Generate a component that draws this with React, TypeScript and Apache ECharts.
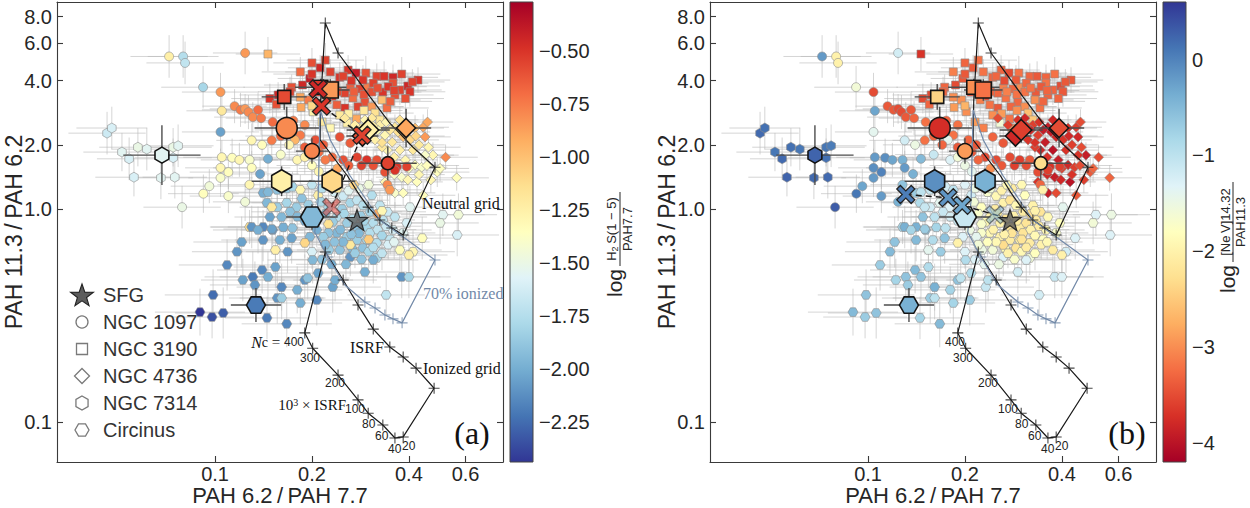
import React, { useEffect, useRef } from 'react';
import * as echarts from 'echarts';

// ---------------- axes / colour scales ----------------
const X_TICKS = [0.1, 0.2, 0.4, 0.6];
const Y_TICKS = [0.1, 1, 2, 4, 6, 8];
const CB_A_TICKS = [-2.25, -2.0, -1.75, -1.5, -1.25, -1.0, -0.75, -0.5];
const CB_B_TICKS = [-4, -3, -2, -1, 0];
const X_RANGE = [0.0323, 0.784];
const Y_RANGE = [0.0649, 9.37];
const CB_A_RANGE = [-2.44, -0.27];
const CB_B_RANGE = [-4.2, 0.6];

// ---------------- data: [x, y, colour (a), colour (b), x err (dex), y err (dex)] ----------------
const NGC3190 = [
  [0.146, 5.34, -0.95, -3.7, 0.1, 0.08], [0.2, 4.85, -0.6, -3.3, 0.12, 0.07], [0.212, 4.6, -0.45, -3.4, 0.1, 0.06],
  [0.228, 4.4, -0.55, -3.2, 0.14, 0.06], [0.259, 4.49, -0.5, -3.3, 0.12, 0.07], [0.274, 4.35, -0.4, -3.5, 0.1, 0.06],
  [0.294, 4.35, -0.6, -3.2, 0.15, 0.08], [0.318, 4.2, -0.55, -3.3, 0.12, 0.06], [0.335, 4.2, -0.5, -3.4, 0.1, 0.07],
  [0.357, 4.15, -0.45, -3.3, 0.14, 0.06], [0.38, 4.3, -0.55, -3.2, 0.12, 0.08], [0.427, 4.03, -0.5, -3.4, 0.1, 0.06],
  [0.184, 4.4, -0.7, -3.1, 0.12, 0.07], [0.173, 3.73, -0.6, -3.3, 0.15, 0.06], [0.187, 3.82, -0.45, -3.5, 0.12, 0.07],
  [0.197, 4.1, -0.4, -3.4, 0.1, 0.06], [0.236, 3.82, -0.6, -3.2, 0.13, 0.06], [0.244, 4.15, -0.5, -3.3, 0.11, 0.07],
  [0.263, 3.7, -0.65, -3.1, 0.12, 0.06], [0.282, 3.66, -0.55, -3.3, 0.14, 0.07], [0.298, 3.73, -0.75, -3.0, 0.1, 0.06],
  [0.332, 3.54, -0.5, -3.4, 0.12, 0.07], [0.357, 3.9, -0.6, -3.2, 0.11, 0.06], [0.375, 3.62, -0.55, -3.3, 0.13, 0.07],
  [0.397, 3.78, -0.45, -3.5, 0.1, 0.06], [0.33, 3.25, -1.0, -3.0, 0.12, 0.07], [0.268, 3.32, -0.7, -3.2, 0.14, 0.06],
  [0.292, 3.18, -0.6, -3.3, 0.12, 0.07], [0.307, 3.02, -0.85, -3.0, 0.1, 0.06], [0.253, 2.98, -0.5, -3.4, 0.13, 0.07],
  [0.239, 3.08, -0.65, -3.2, 0.12, 0.06], [0.231, 3.38, -0.5, -3.5, 0.11, 0.07], [0.314, 2.82, -1.15, -2.6, 0.12, 0.06],
  [0.278, 3.02, -0.55, -3.3, 0.14, 0.07], [0.325, 2.62, -1.2, -2.5, 0.12, 0.06], [0.257, 2.53, -1.25, -1.6, 0.1, 0.07],
  [0.244, 2.76, -1.2, -3.0, 0.13, 0.06], [0.275, 2.65, -0.9, -3.2, 0.12, 0.07], [0.318, 2.4, -1.3, -3.0, 0.11, 0.06],
  [0.165, 3.25, -0.6, -3.2, 0.14, 0.07], [0.157, 3.43, -0.45, -3.5, 0.12, 0.06], [0.171, 3.55, -0.55, -3.3, 0.1, 0.07],
  [0.22, 5.0, -0.55, -3.2, 0.12, 0.08], [0.202, 2.86, -1.25, -3.0, 0.13, 0.07], [0.215, 2.56, -1.2, -2.9, 0.12, 0.06],
  [0.228, 2.4, -1.3, -3.1, 0.1, 0.07], [0.362, 3.43, -0.6, -3.3, 0.12, 0.06], [0.403, 3.55, -0.5, -3.4, 0.11, 0.07],
  [0.342, 2.98, -0.7, -3.2, 0.13, 0.06], [0.184, 3.35, -0.9, -3.0, 0.12, 0.07], [0.209, 3.54, -0.5, -3.6, 0.1, 0.06],
  [0.223, 3.25, -0.75, -3.1, 0.12, 0.07], [0.253, 3.5, -0.55, -3.3, 0.11, 0.06], [0.288, 4.03, -0.5, -3.4, 0.13, 0.07],
  [0.307, 3.54, -0.6, -3.2, 0.12, 0.06], [0.148, 3.3, -0.5, -3.5, 0.12, 0.07], [0.155, 3.1, -0.6, -3.3, 0.11, 0.06],
  [0.2, 4.3, -0.5, -3.4, 0.12, 0.07], [0.25, 4.2, -0.55, -3.3, 0.1, 0.06], [0.265, 4.0, -0.5, -3.5, 0.13, 0.07],
  [0.31, 3.9, -0.55, -3.3, 0.12, 0.06], [0.32, 3.7, -0.6, -3.2, 0.11, 0.07], [0.345, 3.75, -0.5, -3.4, 0.12, 0.06],
  [0.36, 3.6, -0.55, -3.3, 0.1, 0.07], [0.29, 3.45, -0.6, -3.2, 0.13, 0.06], [0.27, 3.55, -0.65, -3.1, 0.12, 0.07],
  [0.24, 3.55, -0.6, -3.3, 0.11, 0.06], [0.195, 3.25, -0.75, -3.0, 0.12, 0.07], [0.185, 3.0, -0.9, -2.9, 0.13, 0.06],
  [0.2, 3.05, -1.1, -2.7, 0.12, 0.07], [0.26, 2.8, -1.25, -2.9, 0.1, 0.06], [0.29, 2.9, -1.2, -3.0, 0.12, 0.07],
  [0.3, 2.55, -1.3, -3.1, 0.11, 0.06], [0.28, 2.4, -1.25, -3.0, 0.12, 0.07], [0.35, 3.2, -0.65, -3.3, 0.13, 0.06],
  [0.39, 3.3, -0.6, -3.3, 0.12, 0.07], [0.41, 3.95, -0.55, -3.4, 0.1, 0.06],
];

const NGC4736 = [
  [0.443, 2.42, -0.9, -3.6, 0.08, 0.06], [0.418, 2.4, -1.0, -3.7, 0.09, 0.06], [0.449, 2.18, -0.85, -3.8, 0.08, 0.05],
  [0.52, 1.75, -0.8, -3.5, 0.1, 0.06], [0.475, 1.79, -1.3, -3.9, 0.08, 0.06], [0.449, 1.79, -1.4, -3.7, 0.09, 0.05],
  [0.49, 1.49, -1.35, -3.4, 0.1, 0.07], [0.468, 1.37, -1.3, -3.6, 0.09, 0.06], [0.563, 1.4, -1.35, -3.3, 0.1, 0.06],
  [0.38, 1.41, -1.4, -3.9, 0.08, 0.06], [0.397, 1.37, -1.3, -3.8, 0.09, 0.07], [0.424, 1.34, -1.35, -4.0, 0.08, 0.06],
  [0.362, 1.19, -1.4, -3.9, 0.09, 0.07], [0.384, 1.19, -1.35, -3.5, 0.1, 0.06], [0.337, 1.34, -1.3, -3.7, 0.08, 0.06],
  [0.418, 1.61, -1.35, -3.8, 0.09, 0.06], [0.438, 1.57, -1.4, -3.6, 0.08, 0.05], [0.253, 2.67, -1.2, -3.5, 0.09, 0.06],
  [0.272, 2.48, -1.25, -3.6, 0.1, 0.06], [0.292, 2.62, -1.3, -3.7, 0.08, 0.05], [0.307, 2.67, -1.2, -3.8, 0.09, 0.06],
  [0.325, 2.48, -1.25, -3.6, 0.1, 0.06], [0.34, 2.56, -1.3, -3.7, 0.08, 0.05], [0.362, 2.42, -1.2, -3.9, 0.09, 0.06],
  [0.375, 2.62, -1.15, -3.8, 0.1, 0.06], [0.337, 2.22, -1.3, -3.6, 0.08, 0.05], [0.314, 2.11, -1.25, -3.7, 0.09, 0.06],
  [0.355, 2.06, -1.2, -3.9, 0.1, 0.06], [0.384, 2.18, -1.0, -3.8, 0.08, 0.05], [0.403, 2.11, -1.1, -3.7, 0.09, 0.06],
  [0.37, 2.3, -1.15, -3.9, 0.1, 0.06], [0.292, 2.27, -1.3, -3.6, 0.08, 0.05], [0.32, 2.35, -1.35, -3.8, 0.09, 0.06],
  [0.412, 1.89, -1.2, -3.7, 0.1, 0.06], [0.375, 1.89, -1.25, -4.0, 0.08, 0.05], [0.343, 1.89, -1.3, -3.8, 0.09, 0.06],
  [0.457, 2.56, -0.9, -3.5, 0.08, 0.06], [0.443, 1.16, -1.35, -3.4, 0.1, 0.06],
  [0.35, 1.6, -1.3, -3.8, 0.09, 0.06], [0.36, 1.75, -1.25, -3.7, 0.08, 0.05], [0.39, 1.7, -1.3, -3.9, 0.1, 0.06],
  [0.4, 1.55, -1.35, -3.6, 0.09, 0.06], [0.43, 1.45, -1.3, -3.7, 0.08, 0.05], [0.455, 1.6, -1.35, -3.5, 0.1, 0.06],
  [0.36, 1.45, -1.4, -3.8, 0.09, 0.06], [0.33, 1.95, -1.2, -3.6, 0.08, 0.05], [0.33, 2.05, -1.15, -3.7, 0.1, 0.06],
  [0.42, 2.2, -1.1, -3.8, 0.09, 0.06], [0.43, 2.0, -1.2, -3.6, 0.08, 0.05], [0.46, 1.95, -1.3, -3.5, 0.1, 0.06],
  [0.5, 1.55, -1.35, -3.3, 0.09, 0.06], [0.35, 2.35, -1.2, -3.9, 0.08, 0.05], [0.31, 2.45, -1.25, -3.7, 0.1, 0.06],
];

const NGC1097 = [
  [0.124, 5.4, -0.85, -1.2, 0.1, 0.1], [0.104, 3.54, -0.85, -3.5, 0.12, 0.09], [0.115, 3.04, -0.8, -3.4, 0.1, 0.08],
  [0.12, 2.92, -0.75, -3.4, 0.12, 0.08], [0.124, 2.95, -0.85, -3.5, 0.11, 0.07], [0.127, 2.85, -0.8, -3.5, 0.1, 0.08],
  [0.131, 2.7, -0.8, -3.4, 0.12, 0.07], [0.139, 2.67, -0.75, -3.3, 0.11, 0.08], [0.151, 2.56, -0.7, -3.2, 0.1, 0.07],
  [0.136, 2.92, -0.7, -3.4, 0.12, 0.08], [0.105, 2.89, -1.2, -0.3, 0.11, 0.08], [0.104, 2.3, -2.05, -1.4, 0.12, 0.09],
  [0.0918, 3.73, -1.8, -1.6, 0.13, 0.1], [0.072, 5.2, -1.25, -0.2, 0.12, 0.1], [0.0796, 5.2, -1.75, -2.0, 0.11, 0.1],
  [0.0807, 4.85, -1.7, -2.0, 0.12, 0.1], [0.276, 1.75, -0.55, -3.5, 0.1, 0.07], [0.296, 1.7, -0.5, -3.6, 0.11, 0.06],
  [0.318, 1.7, -0.6, -3.4, 0.1, 0.07], [0.367, 1.58, -0.5, -3.7, 0.12, 0.06], [0.394, 1.58, -0.55, -3.6, 0.1, 0.07],
  [0.263, 2.04, -0.65, -3.4, 0.11, 0.06], [0.244, 2.18, -0.6, -3.3, 0.1, 0.07], [0.231, 1.75, -0.7, -3.5, 0.12, 0.06],
  [0.205, 2.11, -0.6, -3.3, 0.11, 0.07], [0.217, 2.0, -0.65, -3.4, 0.1, 0.06], [0.184, 2.22, -0.75, -3.2, 0.12, 0.07],
  [0.171, 2.35, -0.7, -3.3, 0.11, 0.06], [0.19, 2.48, -0.8, -3.2, 0.1, 0.07], [0.177, 2.11, -0.95, -1.4, 0.12, 0.06],
  [0.337, 1.49, -0.6, -3.5, 0.1, 0.07], [0.362, 1.52, -0.5, -3.6, 0.11, 0.06], [0.343, 1.3, -0.8, -3.3, 0.1, 0.07],
  [0.105, 1.75, -1.3, -0.2, 0.12, 0.08], [0.113, 1.74, -1.35, -0.1, 0.11, 0.09], [0.119, 1.7, -1.3, -0.3, 0.12, 0.08],
  [0.128, 1.7, -1.4, -0.4, 0.1, 0.09], [0.13, 1.56, -1.35, -0.2, 0.12, 0.08], [0.104, 1.56, -1.3, -0.1, 0.11, 0.09],
  [0.11, 1.49, -1.35, 0.0, 0.12, 0.08], [0.104, 1.4, -1.4, -0.2, 0.1, 0.09], [0.096, 1.28, -1.45, -0.3, 0.12, 0.08],
  [0.092, 1.18, -1.35, 0.1, 0.11, 0.09], [0.11, 1.15, -1.4, -0.2, 0.12, 0.08], [0.124, 1.08, -1.45, -0.4, 0.1, 0.09],
  [0.079, 1.02, -1.5, 0.3, 0.12, 0.1], [0.146, 1.72, -2.0, -0.5, 0.11, 0.08], [0.138, 1.46, -2.05, -0.4, 0.12, 0.08],
  [0.14, 2.0, -1.35, -1.5, 0.1, 0.07], [0.13, 2.1, -1.3, -1.2, 0.11, 0.08], [0.128, 1.3, -1.3, -0.6, 0.1, 0.08],
  [0.16, 2.2, -0.7, -3.3, 0.11, 0.07], [0.15, 2.1, -0.75, -3.2, 0.1, 0.08], [0.17, 2.0, -1.3, -3.3, 0.12, 0.07],
  [0.19, 1.95, -0.65, -3.4, 0.11, 0.08], [0.21, 1.85, -0.7, -3.4, 0.1, 0.07], [0.22, 1.7, -0.75, -3.3, 0.12, 0.08],
  [0.25, 1.7, -0.6, -3.5, 0.11, 0.07], [0.26, 1.6, -0.65, -3.4, 0.1, 0.08], [0.24, 1.55, -0.9, -3.0, 0.12, 0.07],
  [0.2, 1.6, -1.35, -1.5, 0.11, 0.08], [0.18, 1.7, -1.3, -1.3, 0.1, 0.07], [0.16, 1.8, -1.4, -1.1, 0.12, 0.08],
  [0.285, 1.6, -0.55, -3.6, 0.11, 0.07], [0.31, 1.6, -0.6, -3.5, 0.1, 0.08], [0.175, 2.6, -0.75, -3.3, 0.12, 0.07],
  [0.19, 1.75, -1.25, -1.6, 0.11, 0.08], [0.21, 1.5, -1.3, -1.4, 0.1, 0.07], [0.23, 1.45, -1.2, -1.8, 0.12, 0.08],
];

const NGC7314 = [
  [0.0462, 2.27, -1.65, 0.2, 0.12, 0.1], [0.0478, 2.4, -1.6, 0.15, 0.11, 0.1], [0.0514, 1.85, -1.55, 0.1, 0.12, 0.09],
  [0.0541, 1.72, -1.6, 0.2, 0.1, 0.1], [0.0576, 1.95, -1.5, 0.15, 0.12, 0.09], [0.0614, 1.91, -1.55, 0.1, 0.11, 0.1],
  [0.056, 1.41, -1.6, 0.25, 0.12, 0.09], [0.0679, 1.4, -1.55, 0.2, 0.1, 0.1], [0.0741, 1.95, -1.5, 0.1, 0.12, 0.09],
  [0.0768, 1.98, -1.55, 0.05, 0.11, 0.1], [0.0741, 1.74, -1.6, 0.15, 0.12, 0.09], [0.075, 1.41, -1.55, 0.2, 0.1, 0.1],
];

const CIRCINUS = [
  [0.141, 1.19, -2.0, -0.7, 0.1, 0.07], [0.146, 1.2, -1.95, -1.0, 0.12, 0.08], [0.156, 1.23, -1.9, -1.1, 0.1, 0.07],
  [0.167, 1.25, -1.85, -1.3, 0.11, 0.08], [0.174, 1.27, -1.8, -1.2, 0.1, 0.07], [0.145, 1.07, -1.95, -0.9, 0.12, 0.08],
  [0.156, 1.02, -1.85, -1.2, 0.1, 0.07], [0.167, 1.07, -1.8, -1.4, 0.11, 0.08], [0.179, 1.02, -1.85, -1.3, 0.1, 0.07],
  [0.171, 0.97, -1.9, -1.1, 0.12, 0.08], [0.161, 0.917, -1.95, -1.0, 0.1, 0.07], [0.148, 0.917, -2.05, -0.6, 0.11, 0.08],
  [0.163, 0.82, -2.0, -0.8, 0.1, 0.07], [0.174, 0.814, -1.9, -1.0, 0.12, 0.08], [0.151, 0.797, -2.1, -0.5, 0.1, 0.07],
  [0.141, 0.823, -2.15, -0.4, 0.11, 0.08], [0.225, 1.02, -1.8, -1.8, 0.1, 0.07], [0.239, 0.917, -1.75, -2.0, 0.12, 0.08],
  [0.248, 1.0, -1.85, -2.1, 0.1, 0.07], [0.263, 1.07, -1.8, -2.0, 0.11, 0.08], [0.276, 1.1, -1.7, -2.2, 0.1, 0.07],
  [0.288, 1.04, -1.75, -1.9, 0.12, 0.08], [0.303, 0.97, -1.8, -2.1, 0.1, 0.07], [0.257, 0.86, -1.85, -2.0, 0.11, 0.08],
  [0.276, 0.823, -1.9, -2.2, 0.1, 0.07], [0.296, 0.823, -1.8, -2.1, 0.12, 0.08], [0.239, 0.772, -1.95, -1.9, 0.1, 0.07],
  [0.257, 0.74, -1.85, -2.0, 0.11, 0.08], [0.225, 0.772, -1.9, -1.7, 0.1, 0.07], [0.207, 0.797, -2.0, -1.5, 0.12, 0.08],
  [0.197, 0.74, -1.95, -1.3, 0.1, 0.07], [0.303, 0.772, -1.75, -2.2, 0.11, 0.08], [0.332, 0.888, -1.7, -2.1, 0.1, 0.07],
  [0.357, 0.797, -1.6, -1.9, 0.12, 0.08], [0.384, 0.772, -1.55, -1.7, 0.1, 0.07], [0.394, 0.86, -1.6, -1.8, 0.11, 0.08],
  [0.276, 0.715, -1.85, -2.1, 0.1, 0.07], [0.296, 0.715, -1.8, -2.0, 0.12, 0.08], [0.288, 0.656, -1.9, -2.2, 0.1, 0.07],
  [0.266, 0.656, -1.95, -1.9, 0.11, 0.08], [0.244, 0.642, -1.9, -1.6, 0.1, 0.07], [0.318, 0.693, -1.75, -2.1, 0.12, 0.08],
  [0.318, 0.589, -1.8, -1.6, 0.1, 0.08], [0.263, 0.595, -2.1, -1.3, 0.12, 0.09], [0.292, 0.506, -2.0, -1.2, 0.13, 0.1],
  [0.38, 0.48, -2.1, -1.1, 0.12, 0.1], [0.4, 0.48, -1.8, -1.3, 0.13, 0.1], [0.34, 0.395, -1.7, -1.2, 0.12, 0.1],
  [0.217, 0.74, -1.85, -1.4, 0.1, 0.07], [0.2, 0.63, -1.6, -1.3, 0.12, 0.08], [0.226, 0.642, -1.85, -1.5, 0.1, 0.08],
  [0.15, 1.02, -1.2, -1.1, 0.1, 0.07], [0.128, 0.823, -1.15, -0.8, 0.12, 0.08], [0.19, 0.693, -1.1, -2.0, 0.1, 0.07],
  [0.154, 0.642, -1.25, -1.4, 0.12, 0.08], [0.263, 0.678, -1.2, -2.3, 0.1, 0.07], [0.32, 0.95, -0.9, -2.3, 0.11, 0.08],
  [0.349, 1.23, -0.85, -2.0, 0.1, 0.07], [0.209, 1.16, -1.25, -1.2, 0.12, 0.08], [0.184, 1.23, -1.3, -1.0, 0.1, 0.07],
  [0.307, 1.16, -1.75, -1.8, 0.11, 0.08], [0.325, 1.04, -1.7, -2.0, 0.1, 0.07], [0.343, 0.97, -1.65, -2.2, 0.12, 0.08],
  [0.362, 0.917, -1.7, -1.9, 0.1, 0.07],
  [0.186, 1.12, -1.9, -1.2, 0.1, 0.07], [0.195, 1.05, -1.85, -1.4, 0.11, 0.08], [0.213, 1.08, -1.8, -1.6, 0.1, 0.07],
  [0.22, 0.95, -1.9, -1.7, 0.12, 0.08], [0.232, 0.87, -1.85, -1.9, 0.1, 0.07], [0.245, 0.8, -1.95, -2.0, 0.11, 0.08],
  [0.252, 0.95, -1.8, -2.1, 0.1, 0.07], [0.268, 0.9, -1.75, -2.2, 0.12, 0.08], [0.283, 0.93, -1.85, -2.0, 0.1, 0.07],
  [0.29, 0.88, -1.8, -2.1, 0.11, 0.08], [0.31, 0.86, -1.75, -2.2, 0.1, 0.07], [0.32, 0.8, -1.7, -2.0, 0.12, 0.08],
  [0.33, 0.75, -1.8, -1.9, 0.1, 0.07], [0.34, 0.83, -1.65, -2.1, 0.11, 0.08], [0.35, 0.72, -1.7, -1.8, 0.1, 0.07],
  [0.28, 0.77, -1.95, -2.2, 0.12, 0.08], [0.265, 0.76, -1.9, -2.0, 0.1, 0.07], [0.25, 0.7, -1.95, -1.9, 0.11, 0.08],
  [0.235, 0.7, -1.9, -1.8, 0.1, 0.07], [0.22, 0.68, -1.95, -1.6, 0.12, 0.08], [0.272, 0.62, -1.85, -2.0, 0.1, 0.07],
  [0.3, 0.63, -1.8, -1.9, 0.11, 0.08], [0.31, 0.66, -1.75, -2.1, 0.1, 0.07], [0.285, 0.58, -1.9, -1.7, 0.12, 0.08],
  [0.255, 0.55, -1.95, -1.5, 0.1, 0.07], [0.23, 0.55, -2.0, -1.4, 0.11, 0.08], [0.215, 0.58, -1.9, -1.3, 0.1, 0.07],
  [0.33, 0.62, -1.7, -1.8, 0.12, 0.08], [0.345, 0.68, -1.6, -2.0, 0.1, 0.07], [0.36, 0.7, -1.55, -1.9, 0.11, 0.08],
  [0.19, 0.88, -2.0, -1.1, 0.1, 0.07], [0.18, 0.92, -1.95, -1.2, 0.12, 0.08], [0.205, 0.9, -1.85, -1.5, 0.1, 0.07],
  [0.2, 1.3, -1.7, -1.3, 0.11, 0.08], [0.215, 1.25, -1.75, -1.5, 0.1, 0.07], [0.235, 1.2, -1.6, -1.7, 0.12, 0.08],
  [0.25, 1.15, -1.65, -1.9, 0.1, 0.07], [0.26, 1.22, -1.55, -2.0, 0.11, 0.08], [0.28, 1.25, -1.5, -2.1, 0.1, 0.07],
  [0.3, 1.3, -1.45, -1.9, 0.12, 0.08], [0.24, 1.25, -1.2, -1.6, 0.1, 0.07], [0.27, 1.3, -1.1, -1.9, 0.11, 0.08],
  [0.225, 0.85, -1.15, -1.7, 0.1, 0.07], [0.3, 0.72, -1.05, -2.2, 0.12, 0.08], [0.33, 0.98, -1.3, -2.0, 0.1, 0.07],
  [0.109, 0.546, -2.15, -0.7, 0.15, 0.12], [0.117, 0.63, -2.1, -0.5, 0.14, 0.11], [0.121, 0.7, -2.05, -0.6, 0.15, 0.12],
  [0.13, 0.823, -2.1, -0.4, 0.13, 0.1], [0.136, 0.797, -2.0, -0.8, 0.14, 0.11], [0.15, 0.805, -2.05, -0.7, 0.15, 0.12],
  [0.141, 0.715, -2.1, -0.5, 0.13, 0.1], [0.159, 0.715, -2.0, -0.9, 0.14, 0.11], [0.173, 0.73, -2.05, -0.6, 0.15, 0.12],
  [0.168, 0.63, -2.1, -0.7, 0.13, 0.1], [0.14, 0.517, -2.15, -0.5, 0.14, 0.11], [0.131, 0.48, -2.2, -0.6, 0.15, 0.12],
  [0.122, 0.464, -2.05, -0.8, 0.13, 0.1], [0.133, 0.44, -2.1, -0.7, 0.14, 0.11], [0.146, 0.48, -2.0, -0.6, 0.15, 0.12],
  [0.154, 0.534, -2.05, -0.9, 0.13, 0.1], [0.161, 0.43, -2.15, -0.4, 0.14, 0.11], [0.156, 0.382, -2.1, -0.7, 0.15, 0.12],
  [0.161, 0.382, -1.85, -1.0, 0.13, 0.1], [0.18, 0.417, -2.0, -0.8, 0.14, 0.11], [0.19, 0.464, -2.1, -0.6, 0.15, 0.12],
  [0.194, 0.474, -1.9, -1.0, 0.13, 0.1], [0.209, 0.5, -2.05, -0.9, 0.14, 0.11], [0.207, 0.374, -2.15, -0.7, 0.15, 0.12],
  [0.184, 0.362, -2.0, -0.8, 0.13, 0.1], [0.201, 0.576, -1.95, -0.9, 0.14, 0.11], [0.0986, 0.395, -2.25, -0.6, 0.15, 0.12],
  [0.0979, 0.311, -2.35, -0.7, 0.13, 0.1], [0.0898, 0.328, -2.45, -0.5, 0.14, 0.11], [0.106, 0.325, -2.3, -0.6, 0.15, 0.12],
  [0.145, 0.308, -2.2, -0.8, 0.13, 0.1], [0.167, 0.289, -2.15, -0.5, 0.14, 0.11], [0.232, 0.43, -2.05, -1.1, 0.15, 0.12],
  [0.236, 0.464, -2.0, -1.0, 0.13, 0.1], [0.31, 0.576, -2.0, -1.3, 0.14, 0.11], [0.44, 0.73, -1.35, -1.3, 0.12, 0.1],
  [0.412, 0.63, -1.3, -1.2, 0.13, 0.1], [0.403, 1.02, -1.55, -1.4, 0.12, 0.1], [0.51, 0.94, -1.55, -1.3, 0.13, 0.1],
  [0.57, 0.94, -1.45, -1.5, 0.12, 0.1], [0.565, 0.755, -1.6, -1.3, 0.13, 0.1], [0.5, 0.86, -1.5, -1.6, 0.12, 0.1],
  [0.375, 0.642, -1.35, -2.1, 0.13, 0.1], [0.4, 0.608, -1.25, -2.0, 0.12, 0.1],
];

// galaxy means: [x, y, colour (a), colour (b), x err (dex), y err (dex)]
const MEAN_1097 = [[0.167, 2.4, -0.8, -3.75, 0.1, 0.1], [0.2, 1.87, -0.78, -2.9, 0.05, 0.06], [0.344, 1.64, -0.55, -2.3, 0.09, 0.08]];
const MEAN_3190 = [[0.164, 3.36, -0.58, -2.4, 0.07, 0.06], [0.213, 3.73, -0.5, -3.0, 0.08, 0.04], [0.228, 3.62, -0.85, -3.2, 0.06, 0.05]];
const MEAN_4736 = [[0.287, 2.2, -0.6, -3.8, 0.05, 0.05], [0.299, 2.35, -1.25, -3.6, 0.067, 0.06], [0.392, 2.4, -0.9, -3.5, 0.078, 0.09]];
const MEAN_7314 = [[0.161, 1.35, -1.25, -0.1, 0.093, 0.07], [0.231, 1.35, -1.1, -0.4, 0.072, 0.06], [0.0684, 1.79, -1.55, 0.25, 0.12, 0.14]];
const MEAN_CIRC = [[0.2, 0.917, -1.95, -1.1, 0.08, 0.06], [0.134, 0.354, -2.2, -0.4, 0.078, 0.08]];
const MEAN_1097_SIZE = [21, 15, 13];
const MEAN_3190_SIZE = [13, 14, 16];
const MEAN_4736_SIZE = [20, 21, 19];
const MEAN_7314_SIZE = [23, 23, 16];
const MEAN_CIRC_SIZE = [23, 19];

// binned tracks: [x, y, colour]
const XBIN_A = [[0.209, 3.66, -0.45], [0.214, 3.04, -0.5], [0.286, 2.22, -0.55]];
const XBIN_A_FADED = [[0.23, 1.02, -0.5]];
const XBIN_B = [[0.131, 1.17, 0.05], [0.177, 1.13, -0.15], [0.196, 1.04, -0.3]];
const XBIN_B_FADED = [[0.248, 0.94, -0.4]];
const SFG = [[0.276, 0.888]];

// model grids
const NEUTRAL_LINE = [
  [0.22, 7.47], [0.241, 5.4], [0.257, 4.74], [0.303, 3.36], [0.349, 2.53], [0.412, 1.95], [0.482, 1.57],
  [0.384, 0.755], [0.354, 0.814], [0.325, 0.888], [0.299, 1.02], [0.278, 1.19], [0.257, 1.44], [0.212, 2.11],
  [0.213, 3.25], [0.22, 7.47],
];
const NEUTRAL_NODES = [[0.22, 7.47], [0.241, 5.4], [0.482, 1.57], [0.384, 0.755], [0.354, 0.814], [0.325, 0.888], [0.299, 1.02]];
const IONIZED_LINE = [
  [0.22, 0.628], [0.19, 0.262], [0.201, 0.222], [0.241, 0.166], [0.278, 0.127], [0.299, 0.11], [0.332, 0.0968],
  [0.362, 0.0841], [0.384, 0.0851], [0.479, 0.144], [0.421, 0.179], [0.384, 0.202], [0.349, 0.225], [0.31, 0.273],
  [0.278, 0.354], [0.25, 0.464], [0.22, 0.628],
];
const IONIZED_NODES = IONIZED_LINE.slice(0, 16);
const ION70_LINE = [
  [0.212, 2.92], [0.209, 1.1], [0.204, 0.78], [0.224, 0.595], [0.253, 0.44], [0.292, 0.366], [0.314, 0.343],
  [0.337, 0.318], [0.357, 0.305], [0.381, 0.292], [0.482, 0.576], [0.384, 0.739], [0.325, 0.888], [0.262, 1.44],
  [0.228, 2.11], [0.212, 2.92],
];
const ION70_NODES = [[0.224, 0.595], [0.292, 0.366], [0.314, 0.343], [0.337, 0.318], [0.357, 0.305], [0.381, 0.292], [0.482, 0.576]];

const LEGEND_NAMES = ['SFG', 'NGC 1097', 'NGC 3190', 'NGC 4736', 'NGC 7314', 'Circinus'];
const NC_LABELS = ['400', '300', '200', '100', '80', '60', '40', '20'];

// ---------------- style ----------------
const FONT = "'Liberation Sans', Arial, Helvetica, sans-serif";
const SERIF = "'Liberation Serif', 'Times New Roman', serif";
const RDYLBU = ['#a50026', '#d73027', '#f46d43', '#fdae61', '#fee090', '#ffffbf', '#e0f3f8', '#abd9e9', '#74add1', '#4575b4', '#313695'];
const STEEL = '#7289a8';
const HEX_POINTY = 'path://M0,-10L8.66,-5L8.66,5L0,10L-8.66,5L-8.66,-5Z';
const HEX_FLAT = 'path://M-10,0L-5,-8.66L5,-8.66L10,0L5,8.66L-5,8.66Z';
const STAR = 'path://M0,-10L2.35,-3.24L9.51,-3.09L3.8,1.24L5.88,8.09L0,4L-5.88,8.09L-3.8,1.24L-9.51,-3.09L-2.35,-3.24Z';
const XMARK = 'path://M-10,-6L-6,-10L0,-4L6,-10L10,-6L4,0L10,6L6,10L0,4L-6,10L-10,6L-4,0Z';
const PLUS = 'path://M0,-10L0,10M-10,0L10,0';
const PANEL_LEFT = [57, 710];
const SHIFT_B = 653;

const lg = (v: number) => Math.log10(v);
const fmt1 = (v: number) => Math.pow(10, v).toFixed(1);
const minus = (s: string) => s.replace('-', '\u2212');

function errorBars(rows: number[][], p: number, color: string, width: number, z: number) {
  return {
    type: 'custom', xAxisIndex: p, yAxisIndex: p, z, silent: true, clip: true,
    data: rows.map((d) => [lg(d[0]), lg(d[1]), d[4], d[5]]),
    renderItem: (params: any, api: any) => {
      const x = api.value(0), y = api.value(1), ex = api.value(2), ey = api.value(3);
      const h0 = api.coord([x - ex, y]), h1 = api.coord([x + ex, y]);
      const v0 = api.coord([x, y - ey]), v1 = api.coord([x, y + ey]);
      const style = { stroke: color, lineWidth: width };
      return {
        type: 'group',
        children: [
          { type: 'line', shape: { x1: h0[0], y1: h0[1], x2: h1[0], y2: h1[1] }, style },
          { type: 'line', shape: { x1: v0[0], y1: v0[1], x2: v1[0], y2: v1[1] }, style },
        ],
      };
    },
  };
}

function buildOption() {
  const series: any[] = [];
  const visual: number[][] = [[], []];

  for (let p = 0; p < 2; p++) {
    const cIdx = 2 + p;
    const small = [...NGC3190, ...NGC4736, ...NGC1097, ...NGC7314, ...CIRCINUS];
    series.push(errorBars(small, p, 'rgba(185,185,185,0.6)', 1, 1));

    const groups: [string, number[][], string, number][] = [
      ['NGC 3190', NGC3190, 'rect', 8],
      ['NGC 4736', NGC4736, 'diamond', 10],
      ['NGC 1097', NGC1097, 'circle', 9],
      ['NGC 7314', NGC7314, HEX_POINTY, 10],
      ['Circinus', CIRCINUS, HEX_FLAT, 10],
    ];
    for (const [name, arr, sym, size] of groups) {
      visual[p].push(series.length);
      series.push({
        type: 'scatter', name, xAxisIndex: p, yAxisIndex: p, symbol: sym, symbolSize: size, symbolKeepAspect: true,
        silent: true, z: 3,
        data: arr.map((d) => [lg(d[0]), lg(d[1]), d[cIdx]]),
        itemStyle: { borderColor: '#8c8c8c', borderWidth: 0.6, opacity: 1 },
      });
    }

    const lines: [number[][], number[][], string][] = [
      [NEUTRAL_LINE, NEUTRAL_NODES, '#1a1a1a'],
      [IONIZED_LINE, IONIZED_NODES, '#1a1a1a'],
      [ION70_LINE, ION70_NODES, STEEL],
    ];
    for (const [ln, nodes, color] of lines) {
      series.push({
        type: 'line', xAxisIndex: p, yAxisIndex: p, silent: true, z: 4, showSymbol: false, symbol: 'none',
        data: ln.map((d) => [lg(d[0]), lg(d[1])]),
        lineStyle: { color, width: 1.2 },
      });
      series.push({
        type: 'scatter', xAxisIndex: p, yAxisIndex: p, silent: true, z: 4, symbol: PLUS, symbolSize: 11,
        data: nodes.map((d) => [lg(d[0]), lg(d[1])]),
        itemStyle: { color: 'none', borderColor: color, borderWidth: 1.1 },
      });
    }

    const means: [string, number[][], number[], string][] = [
      ['NGC 3190', MEAN_3190, MEAN_3190_SIZE, 'rect'],
      ['NGC 4736', MEAN_4736, MEAN_4736_SIZE, 'diamond'],
      ['NGC 1097', MEAN_1097, MEAN_1097_SIZE, 'circle'],
      ['NGC 7314', MEAN_7314, MEAN_7314_SIZE, HEX_POINTY],
      ['Circinus', MEAN_CIRC, MEAN_CIRC_SIZE, HEX_FLAT],
    ];
    series.push(errorBars([...MEAN_3190, ...MEAN_4736, ...MEAN_1097, ...MEAN_7314, ...MEAN_CIRC], p, '#4d4d4d', 1.4, 5));

    const xb = p === 0 ? XBIN_A : XBIN_B;
    const xbf = p === 0 ? XBIN_A_FADED : XBIN_B_FADED;
    const track = p === 0 ? [...xb, ...xbf] : [...xb, ...xbf, [SFG[0][0], SFG[0][1]]];
    series.push({
      type: 'line', xAxisIndex: p, yAxisIndex: p, silent: true, z: 6, showSymbol: false, symbol: 'none',
      data: track.map((d) => [lg(d[0]), lg(d[1])]),
      lineStyle: { color: '#1a1a1a', width: 1.4, type: [6, 4] },
    });

    for (const [name, arr, sizes, sym] of means) {
      visual[p].push(series.length);
      series.push({
        type: 'scatter', name, xAxisIndex: p, yAxisIndex: p, symbol: sym, symbolKeepAspect: true, silent: true, z: 7,
        data: arr.map((d, i) => ({ value: [lg(d[0]), lg(d[1]), d[cIdx]], symbolSize: sizes[i] })),
        itemStyle: { borderColor: '#141414', borderWidth: 1.6, opacity: 1 },
      });
    }

    visual[p].push(series.length);
    series.push({
      type: 'scatter', xAxisIndex: p, yAxisIndex: p, symbol: XMARK, symbolSize: 18, symbolKeepAspect: true, silent: true, z: 8,
      data: xb.map((d) => [lg(d[0]), lg(d[1]), d[2]]),
      itemStyle: { borderColor: '#222', borderWidth: 1.3, opacity: 1 },
    });
    visual[p].push(series.length);
    series.push({
      type: 'scatter', xAxisIndex: p, yAxisIndex: p, symbol: XMARK, symbolSize: 18, symbolKeepAspect: true, silent: true, z: 8,
      data: xbf.map((d) => [lg(d[0]), lg(d[1]), d[2]]),
      itemStyle: { borderColor: '#222', borderWidth: 1.2, opacity: 0.5 },
    });

    series.push({
      type: 'scatter', name: 'SFG', xAxisIndex: p, yAxisIndex: p, symbol: STAR, symbolSize: 22, symbolKeepAspect: true,
      silent: true, z: 9,
      data: SFG.map((d) => [lg(d[0]), lg(d[1])]),
      itemStyle: { color: '#5c5c5c', borderColor: '#111', borderWidth: 1.2 },
    });

    // colour bar
    const range = p === 0 ? CB_A_RANGE : CB_B_RANGE;
    const colours = p === 0 ? RDYLBU : [...RDYLBU].reverse();
    const stops = colours.map((c, i) => ({ offset: i / (colours.length - 1), color: c }));
    series.push({
      type: 'custom', xAxisIndex: 2 + p, yAxisIndex: 2 + p, silent: true, z: 2,
      data: [[0.5, (range[0] + range[1]) / 2]],
      renderItem: (params: any) => {
        const cs = params.coordSys;
        return {
          type: 'rect',
          shape: { x: cs.x, y: cs.y, width: cs.width, height: cs.height },
          style: { fill: new echarts.graphic.LinearGradient(0, 0, 0, 1, stops), stroke: '#444', lineWidth: 1 },
        };
      },
    });
  }

  const axisColor = '#3a3a3a';
  const xAxes: any[] = [];
  const yAxes: any[] = [];
  const mainX = (g: number, position: string, labels: boolean) => ({
    type: 'value', gridIndex: g, position, min: lg(X_RANGE[0]), max: lg(X_RANGE[1]),
    axisLine: { show: true, onZero: false, lineStyle: { color: axisColor, width: 1.1 } },
    splitLine: { show: false },
    axisTick: { show: true, inside: true, length: 6, customValues: X_TICKS.map(lg), lineStyle: { color: axisColor, width: 1.1 } },
    axisLabel: { show: labels, customValues: X_TICKS.map(lg), formatter: fmt1, margin: 2, fontSize: 20, fontFamily: FONT, color: '#262626' },
    name: labels ? 'PAH 6.2\u2009/\u2009PAH 7.7' : '', nameLocation: 'middle', nameGap: 33, nameMoveOverlap: false,
    nameTextStyle: { fontSize: 22, fontFamily: FONT, color: '#262626', verticalAlign: 'middle' },
  });
  const mainY = (g: number, position: string, labels: boolean) => ({
    type: 'value', gridIndex: g, position, min: lg(Y_RANGE[0]), max: lg(Y_RANGE[1]),
    axisLine: { show: true, onZero: false, lineStyle: { color: axisColor, width: 1.1 } },
    splitLine: { show: false },
    axisTick: { show: true, inside: true, length: 6, customValues: Y_TICKS.map(lg), lineStyle: { color: axisColor, width: 1.1 } },
    axisLabel: { show: labels, customValues: Y_TICKS.map(lg), formatter: fmt1, margin: 5, fontSize: 20, fontFamily: FONT, color: '#262626' },
    name: labels ? 'PAH 11.3\u2009/\u2009PAH 6.2' : '', nameLocation: 'middle', nameGap: 32, nameRotate: 90, nameMoveOverlap: false,
    nameTextStyle: { fontSize: 23, fontFamily: FONT, color: '#262626' },
  });
  // index: 0,1 = panels (bottom/left), 2,3 = colour bars, 4,5 = panels (top/right)
  xAxes.push(mainX(0, 'bottom', true), mainX(1, 'bottom', true));
  yAxes.push(mainY(0, 'left', true), mainY(1, 'left', true));
  for (let p = 0; p < 2; p++) {
    const range = p === 0 ? CB_A_RANGE : CB_B_RANGE;
    const ticks = p === 0 ? CB_A_TICKS : CB_B_TICKS;
    xAxes.push({ type: 'value', gridIndex: 2 + p, min: 0, max: 1, show: false });
    yAxes.push({
      type: 'value', gridIndex: 2 + p, position: 'right', min: range[0], max: range[1],
      axisLine: { show: false }, splitLine: { show: false },
      axisTick: { show: true, inside: false, length: 5, customValues: ticks, lineStyle: { color: '#444', width: 1 } },
      axisLabel: {
        customValues: ticks, margin: 6, fontSize: 20, fontFamily: FONT, color: '#262626',
        formatter: (v: number) => minus(p === 0 ? v.toFixed(2) : v.toFixed(0)),
      },
    });
  }
  xAxes.push(mainX(0, 'top', false), mainX(1, 'top', false));
  yAxes.push(mainY(0, 'right', false), mainY(1, 'right', false));

  const grids = [
    { left: PANEL_LEFT[0], top: 2, width: 446, height: 460 },
    { left: PANEL_LEFT[1], top: 2, width: 446, height: 460 },
    { left: 510, top: 2, width: 23, height: 460 },
    { left: 1163, top: 2, width: 23, height: 460 },
  ].map((g) => ({ ...g, containLabel: false, outerBoundsMode: 'none' }));

  // ---------- graphic: legend, annotations, colour-bar titles ----------
  const graphic: any[] = [];
  const poly = (cx: number, cy: number, r: number, n: number, start: number, inner = 0) => {
    const pts: number[][] = [];
    const m = inner ? n * 2 : n;
    for (let i = 0; i < m; i++) {
      const a = ((start + (360 / m) * i) * Math.PI) / 180;
      const rr = inner && i % 2 === 1 ? inner : r;
      pts.push([cx + rr * Math.cos(a), cy + rr * Math.sin(a)]);
    }
    return pts;
  };
  const hollow = { fill: '#ffffff', stroke: '#7a7a7a', lineWidth: 1.3 };
  LEGEND_NAMES.forEach((name, i) => {
    const cy = 295 + 27 * i;
    const cx = 82;
    let icon: any;
    if (i === 0) icon = { type: 'polygon', shape: { points: poly(cx, cy + 1, 12, 5, -90, 4.8) }, style: { fill: '#5c5c5c', stroke: '#222', lineWidth: 1.1 } };
    else if (i === 1) icon = { type: 'circle', shape: { cx, cy, r: 6 }, style: hollow };
    else if (i === 2) icon = { type: 'rect', shape: { x: cx - 5.5, y: cy - 5.5, width: 11, height: 11 }, style: hollow };
    else if (i === 3) icon = { type: 'polygon', shape: { points: poly(cx, cy, 7.5, 4, -90) }, style: hollow };
    else if (i === 4) icon = { type: 'polygon', shape: { points: poly(cx, cy, 7, 6, -90) }, style: hollow };
    else icon = { type: 'polygon', shape: { points: poly(cx, cy, 7, 6, 0) }, style: hollow };
    graphic.push({ ...icon, z: 100 });
    graphic.push({
      type: 'text', x: 103, y: cy, z: 100,
      style: { text: name, fontSize: 20, fontFamily: FONT, fill: '#333', align: 'left', verticalAlign: 'middle' },
    });
  });

  const serifText = (text: string, x: number, y: number, fill = '#111', size = 16, align = 'left') => ({
    type: 'text', x, y, z: 100,
    style: { text, fontSize: size, fontFamily: SERIF, fill, align, verticalAlign: 'middle' },
  });
  graphic.push(serifText('Neutral grid', 422, 203));
  graphic.push(serifText('70% ionized', 423, 293, STEEL));
  graphic.push(serifText('ISRF', 350, 347));
  graphic.push(serifText('Ionized grid', 423, 368));
  graphic.push({
    type: 'text', x: 346, y: 405, z: 100,
    style: {
      text: '{a|10}{s|3}{a| \u00d7 ISRF}', align: 'right', verticalAlign: 'middle',
      rich: { a: { fontSize: 15, fontFamily: SERIF, fill: '#111' }, s: { fontSize: 10, fontFamily: SERIF, fill: '#111', verticalAlign: 'top', padding: [0, 0, 6, 0] } },
    },
  });
  graphic.push({
    type: 'text', x: 284, y: 342, z: 100,
    style: {
      text: '{i|N}{c|c}{e| = }', align: 'right', verticalAlign: 'middle',
      rich: {
        i: { fontSize: 16, fontFamily: SERIF, fontStyle: 'italic', fill: '#111' },
        c: { fontSize: 14, fontFamily: SERIF, fill: '#111' },
        e: { fontSize: 15, fontFamily: SERIF, fill: '#111' },
      },
    },
  });
  graphic.push(serifText('(a)', 472, 433, '#111', 32, 'center'));
  graphic.push(serifText('(b)', 1127, 433, '#111', 32, 'center'));

  const ncPos = [[284, 342], [300, 358], [325, 383], [345, 409], [362, 424], [375, 436], [388, 449], [402, 446]];
  for (let p = 0; p < 2; p++) {
    NC_LABELS.forEach((t, i) => {
      const dx = p === 0 ? 0 : SHIFT_B + (i === 0 ? 8 : 0);
      graphic.push({
        type: 'text', x: ncPos[i][0] + dx, y: ncPos[i][1], z: 100,
        style: { text: t, fontSize: 12, fontFamily: FONT, fill: '#222', align: 'left', verticalAlign: 'middle' },
      });
    });
  }

  // colour bar titles (rotated)
  const fracTitle = (x: number, y: number, num: string, numRich: any, den: string, barHalf: number, logX: number) => ({
    type: 'group', x, y, rotation: Math.PI / 2, z: 100,
    children: [
      { type: 'text', x: logX, y: -6, style: { text: 'log', fontSize: 21, fontFamily: FONT, fill: '#262626', align: 'right', verticalAlign: 'middle' } },
      { type: 'text', x: 0, y: -1, style: { text: num, rich: numRich, fontSize: 13, fontFamily: FONT, fill: '#262626', align: 'center', verticalAlign: 'bottom' } },
      { type: 'line', shape: { x1: -barHalf, y1: 0, x2: barHalf, y2: 0 }, style: { stroke: '#262626', lineWidth: 1 } },
      { type: 'text', x: 0, y: 1, style: { text: den, fontSize: 13, fontFamily: FONT, fill: '#262626', align: 'center', verticalAlign: 'top' } },
    ],
  });
  const subRich = {
    n: { fontSize: 13, fontFamily: FONT, fill: '#262626' },
    b: { fontSize: 9, fontFamily: FONT, fill: '#262626', padding: [6, 0, 0, 0] },
  };
  graphic.push(fracTitle(620, 229, '{n|H}{b|2}{n|\u2009S(1 \u2212 5)}', subRich, 'PAH7.7', 37, -40));
  graphic.push(fracTitle(1233, 222, '{n|[Ne\u2009V]14.32}', subRich, 'PAH11.3', 40, -43));

  return {
    animation: false,
    backgroundColor: '#ffffff',
    grid: grids,
    xAxis: xAxes,
    yAxis: yAxes,
    visualMap: [
      { type: 'continuous', show: false, min: CB_A_RANGE[0], max: CB_A_RANGE[1], dimension: 2, seriesIndex: visual[0], inRange: { color: [...RDYLBU].reverse() } },
      { type: 'continuous', show: false, min: CB_B_RANGE[0], max: CB_B_RANGE[1], dimension: 2, seriesIndex: visual[1], inRange: { color: RDYLBU } },
    ],
    graphic,
    series,
  };
}

export default function App() {
  const ref = useRef<HTMLDivElement>(null);
  useEffect(() => {
    if (!ref.current) return;
    const chart = echarts.init(ref.current, null, { renderer: 'svg' });
    chart.setOption(buildOption() as any);
    return () => chart.dispose();
  }, []);
  return (
    <div
      ref={ref}
      style={{ position: 'fixed', left: 0, top: 0, width: 1250, height: 508, background: '#ffffff' }}
    />
  );
}
